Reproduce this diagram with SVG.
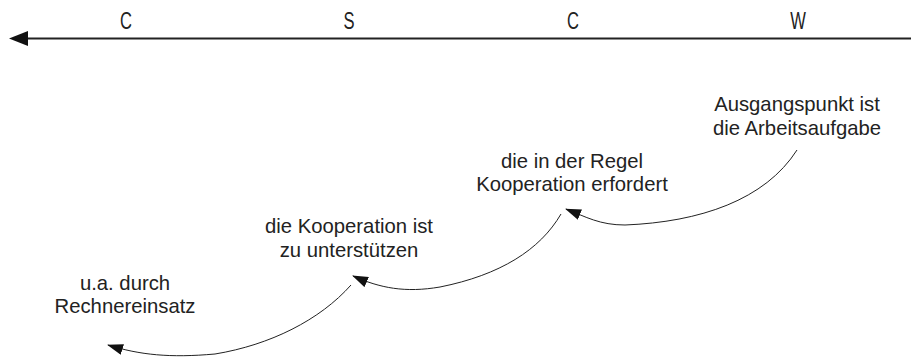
<svg xmlns="http://www.w3.org/2000/svg" width="911" height="358" viewBox="0 0 911 358">
  <style>
    .lbl { font-family: "Liberation Sans", Arial, sans-serif; font-size: 20.3px; fill: #222; text-anchor: middle; }
    .axis { font-family: "Liberation Sans", Arial, sans-serif; font-size: 23px; fill: #222; text-anchor: middle; }
    .link { fill: none; stroke: #222; stroke-width: 1; }
  </style>
  <defs>
    <marker id="head" viewBox="0 0 16 11" refX="15" refY="5.5" markerWidth="16" markerHeight="11" markerUnits="userSpaceOnUse" orient="auto">
      <path d="M0,0 L16,5.5 L0,11 Z" fill="#111"/>
    </marker>
  </defs>
  <rect width="911" height="358" fill="#fff"/>

  <!-- axis with phase letters -->
  <g id="axis">
    <line x1="26" y1="38.5" x2="911" y2="38.5" stroke="#222" stroke-width="1.8"/>
    <path d="M9,38.5 L28,31 L28,46 Z" fill="#111"/>
    <text class="axis" transform="translate(126,29) scale(0.72,1)">C</text>
    <text class="axis" transform="translate(349,29) scale(0.72,1)">S</text>
    <text class="axis" transform="translate(573,29) scale(0.72,1)">C</text>
    <text class="axis" transform="translate(798,29) scale(0.72,1)">W</text>
  </g>

  <g id="node-w">
    <text class="lbl" x="797" y="111">Ausgangspunkt ist</text>
    <text class="lbl" x="797" y="135">die Arbeitsaufgabe</text>
  </g>
  <g id="node-c2">
    <text class="lbl" x="572" y="168">die in der Regel</text>
    <text class="lbl" x="572" y="191">Kooperation erfordert</text>
  </g>
  <g id="node-s">
    <text class="lbl" x="349" y="233">die Kooperation ist</text>
    <text class="lbl" x="349" y="257">zu unterstützen</text>
  </g>
  <g id="node-c1">
    <text class="lbl" x="125" y="290">u.a. durch</text>
    <text class="lbl" x="125" y="313">Rechnereinsatz</text>
  </g>

  <g id="connectors">
    <path class="link" marker-end="url(#head)" d="M797,150 C765,200 700,222 625,225 C600,225 586,217 566,209"/>
    <path class="link" marker-end="url(#head)" d="M561,214 C540,250 500,275 440,287 C405,293 380,288 353,276"/>
    <path class="link" marker-end="url(#head)" d="M351,285 C320,320 270,345 215,354 C170,358 140,355 108,345"/>
  </g>
</svg>
